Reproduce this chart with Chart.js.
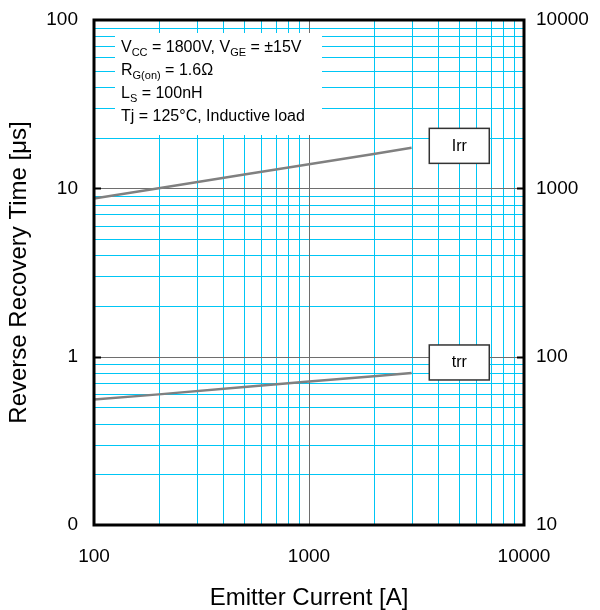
<!DOCTYPE html>
<html>
<head>
<meta charset="utf-8">
<script src="https://cdn.jsdelivr.net/npm/chart.js@4/dist/chart.umd.min.js"></script>
<style>
  html, body { margin: 0; padding: 0; background: #fff; }
</style>
</head>
<body>
<canvas id="chart" width="600" height="610"></canvas>
<script>
// values
const currentA = [100, 200, 500, 1000, 2000, 3000];
const irrA = [870, 1000, 1210, 1390, 1600, 1740];     // right axis [A]
const trrUs = [0.556, 0.597, 0.66, 0.712, 0.766, 0.80]; // left axis [us]

const xTicks = [100, 1000, 10000];
const xTickLabels = ["100", "1000", "10000"];
const leftTicks = [0.1, 1, 10, 100];
const leftTickLabels = ["0", "1", "10", "100"];
const rightTicks = [10, 100, 1000, 10000];
const rightTickLabels = ["10", "100", "1000", "10000"];

const seriesNames = ["Irr", "trr"];

// condition text, [text, isSubscript]
const conditions = [
  [["V"], ["CC", 1], [" = 1800V, V"], ["GE", 1], [" = ±15V"]],
  [["R"], ["G(on)", 1], [" = 1.6Ω"]],
  [["L"], ["S", 1], [" = 100nH"]],
  [["Tj = 125°C, Inductive load"]],
];

const FONT = "'Liberation Sans', Arial, sans-serif";
const CYAN = "#00c6f5";
const MAJOR = "#6e6e6e";

function allLogTicks(decades) {
  const out = [];
  for (let i = 0; i < decades.length - 1; i++) {
    for (let m = 1; m < 10; m++) out.push(decades[i] * m);
  }
  out.push(decades[decades.length - 1]);
  return out;
}

function isDecade(v) {
  const l = Math.log10(v);
  return Math.abs(l - Math.round(l)) < 1e-9;
}

function labelFor(ticks, labels) {
  return (v) => {
    const i = ticks.findIndex((t) => Math.abs(t - v) / t < 1e-6);
    return i >= 0 ? labels[i] : "";
  };
}

const noPad = (s) => { s.paddingTop = 0; s.paddingBottom = 0; s.paddingLeft = 0; s.paddingRight = 0; };

// log grid: cyan minors, grey decades
const logGrid = {
  id: "logGrid",
  beforeDatasetsDraw(chart) {
    const { ctx, chartArea: a, scales } = chart;
    ctx.save();
    ctx.lineWidth = 1;
    const line = (x1, y1, x2, y2, c) => {
      ctx.strokeStyle = c;
      ctx.beginPath(); ctx.moveTo(x1, y1); ctx.lineTo(x2, y2); ctx.stroke();
    };
    // minors first so decades sit on top
    [false, true].forEach((major) => {
      allLogTicks(xTicks).forEach((v) => {
        if (isDecade(v) !== major) return;
        const x = Math.round(scales.x.getPixelForValue(v)) + 0.5;
        line(x, a.top, x, a.bottom, major ? MAJOR : CYAN);
      });
      allLogTicks(leftTicks).forEach((v) => {
        if (isDecade(v) !== major) return;
        const y = Math.round(scales.y.getPixelForValue(v)) + 0.5;
        line(a.left, y, a.right, y, major ? MAJOR : CYAN);
      });
    });
    ctx.restore();
  },
};

const overlay = {
  id: "overlay",
  afterDatasetsDraw(chart) {
    const { ctx, chartArea: a, scales } = chart;
    ctx.save();

    // condition box
    const bx = a.left + 21, by = a.top + 13;
    ctx.fillStyle = "#fff";
    ctx.fillRect(bx, by, 207, 102);
    ctx.fillStyle = "#000";
    ctx.textBaseline = "middle";
    ctx.textAlign = "left";
    conditions.forEach((line, i) => {
      let x = bx + 6;
      const y = by + 15 + i * 23;
      line.forEach(([t, sub]) => {
        ctx.font = (sub ? "11px " : "16px ") + FONT;
        ctx.fillText(t, x, sub ? y + 5 : y);
        x += ctx.measureText(t).width;
      });
    });

    // series name boxes, anchored in data units on the left axis
    const anchors = [[5000, 18], [5000, 0.93]];
    seriesNames.forEach((name, i) => {
      const cx = scales.x.getPixelForValue(anchors[i][0]);
      const cy = scales.y.getPixelForValue(anchors[i][1]);
      ctx.fillStyle = "#fff";
      ctx.fillRect(cx - 30, cy - 17, 60, 35);
      ctx.strokeStyle = "#333";
      ctx.lineWidth = 1.5;
      ctx.strokeRect(cx - 30, cy - 17, 60, 35);
      ctx.fillStyle = "#000";
      ctx.font = "16px " + FONT;
      ctx.textAlign = "center";
      ctx.fillText(name, cx, cy + 1);
    });
    ctx.restore();
  },
  afterDraw(chart) {
    const { ctx, chartArea: a, scales } = chart;
    ctx.save();
    ctx.strokeStyle = "#000";
    ctx.lineWidth = 3;
    ctx.strokeRect(a.left, a.top, a.right - a.left, a.bottom - a.top);
    ctx.lineWidth = 2;
    [1, 10].forEach((v) => {
      const y = Math.round(scales.y.getPixelForValue(v)) + 0.5;
      ctx.beginPath();
      ctx.moveTo(a.left, y); ctx.lineTo(a.left + 7, y);
      ctx.moveTo(a.right, y); ctx.lineTo(a.right - 7, y);
      ctx.stroke();
    });
    ctx.restore();
  },
};

const tickFont = { family: FONT, size: 19 };
const titleFont = { family: FONT, size: 24 };

new Chart(document.getElementById("chart"), {
  type: "line",
  data: {
    datasets: [
      {
        label: seriesNames[0],
        data: currentA.map((x, i) => ({ x, y: irrA[i] })),
        yAxisID: "y2",
        borderColor: "#808080",
        borderWidth: 2.5,
        pointRadius: 0,
      },
      {
        label: seriesNames[1],
        data: currentA.map((x, i) => ({ x, y: trrUs[i] })),
        yAxisID: "y",
        borderColor: "#808080",
        borderWidth: 2.5,
        pointRadius: 0,
      },
    ],
  },
  options: {
    responsive: false,
    devicePixelRatio: 1,
    animation: false,
    layout: { padding: { top: 20, left: 0, right: 0, bottom: 0 } },
    plugins: { legend: { display: false }, tooltip: { enabled: false } },
    scales: {
      x: {
        type: "logarithmic",
        min: 100,
        max: 10000,
        afterBuildTicks: (s) => { s.ticks = xTicks.map((v) => ({ value: v })); },
        afterFit: (s) => { s.height = 85; noPad(s); },
        grid: { display: false, drawTicks: false },
        border: { display: false },
        ticks: {
          autoSkip: false, maxRotation: 0, padding: 20, color: "#000",
          font: tickFont, callback: labelFor(xTicks, xTickLabels),
        },
        title: {
          display: true, text: "Emitter Current [A]", color: "#000",
          font: titleFont, padding: { top: 0, bottom: -3 },
        },
      },
      y: {
        type: "logarithmic",
        position: "left",
        min: 0.1,
        max: 100,
        afterBuildTicks: (s) => { s.ticks = leftTicks.map((v) => ({ value: v })); },
        afterFit: (s) => { s.width = 94; noPad(s); },
        grid: { display: false, drawTicks: false },
        border: { display: false },
        ticks: {
          autoSkip: false, padding: 16, color: "#000",
          font: tickFont, callback: labelFor(leftTicks, leftTickLabels),
        },
        title: {
          display: true, text: "Reverse Recovery Time [μs]", color: "#000",
          font: titleFont, padding: { top: 5, bottom: 0 },
        },
      },
      y2: {
        type: "logarithmic",
        position: "right",
        min: 10,
        max: 10000,
        afterBuildTicks: (s) => { s.ticks = rightTicks.map((v) => ({ value: v })); },
        afterFit: (s) => { s.width = 76; noPad(s); },
        grid: { display: false, drawTicks: false },
        border: { display: false },
        ticks: {
          autoSkip: false, padding: 12, color: "#000",
          font: tickFont, callback: labelFor(rightTicks, rightTickLabels),
        },
      },
    },
  },
  plugins: [logGrid, overlay],
});
</script>
</body>
</html>
